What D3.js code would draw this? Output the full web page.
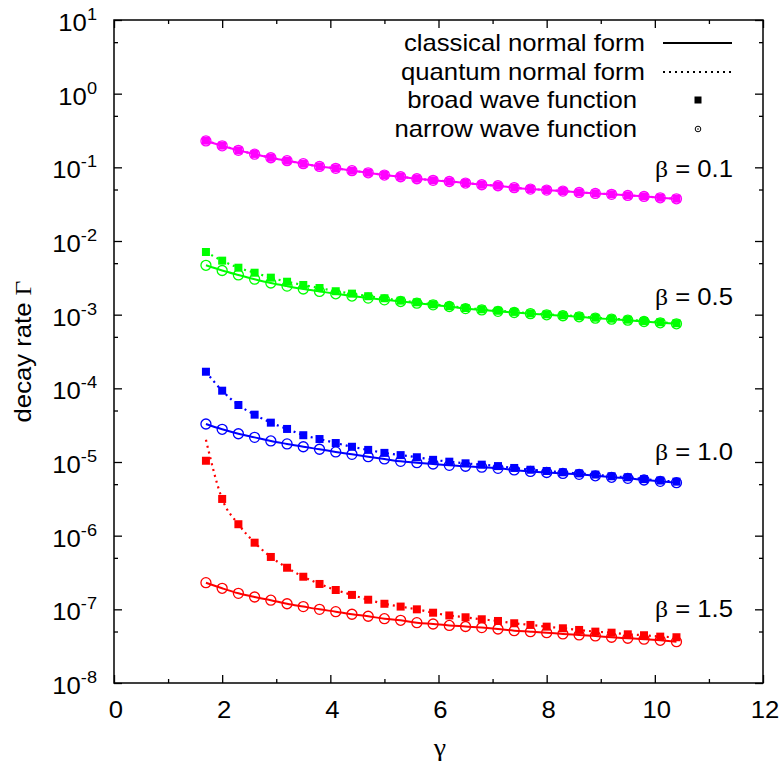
<!DOCTYPE html>
<html><head><meta charset="utf-8">
<script src="https://cdn.jsdelivr.net/npm/d3@7"></script>
<style>
html,body{margin:0;padding:0;background:#fff;}
text{font-family:"Liberation Sans",Arial,sans-serif;fill:#000;}
.greek{font-family:"Liberation Serif","DejaVu Serif",serif;}
</style></head>
<body>
<svg id="chart" width="784" height="769"></svg>
<script>
// ---------- data ----------
const gammaValues = [1.7,2.0,2.3,2.6,2.9,3.2,3.5,3.8,4.1,4.4,4.7,5.0,5.3,5.6,5.9,6.2,6.5,6.8,7.1,7.4,7.7,8.0,8.3,8.6,8.9,9.2,9.5,9.8,10.1,10.4];

const broad01  = [0.230,0.197,0.170,0.152,0.135,0.123,0.112,0.103,0.097,0.090,0.0845,0.0787,0.0746,0.0701,0.0667,0.0643,0.0613,0.0581,0.0563,0.0530,0.0508,0.0492,0.0477,0.0458,0.0444,0.0431,0.0417,0.0404,0.0387,0.0375];
const narrow01 = [0.228,0.196,0.170,0.151,0.135,0.123,0.112,0.103,0.097,0.090,0.0843,0.0786,0.0745,0.0700,0.0666,0.0642,0.0612,0.0580,0.0562,0.0529,0.0507,0.0491,0.0476,0.0457,0.0443,0.0430,0.0416,0.0403,0.0386,0.0374];

const broad05  = [0.00709,0.00541,0.00434,0.00371,0.00318,0.00280,0.00253,0.00230,0.00208,0.00193,0.00178,0.00167,0.00155,0.00147,0.00138,0.00131,0.00123,0.00118,0.00113,0.00109,0.00104,0.00101,0.000981,0.000951,0.000910,0.000882,0.000855,0.000821,0.000788,0.000764];
const narrow05 = [0.00468,0.00398,0.00346,0.00303,0.00269,0.00244,0.00223,0.00207,0.00192,0.00179,0.00168,0.00159,0.00151,0.00143,0.00136,0.00129,0.00121,0.00116,0.00111,0.00107,0.00103,0.000996,0.000966,0.000936,0.000896,0.000868,0.000841,0.000808,0.000776,0.000752];

const broad10  = [1.68e-4,9.29e-5,5.94e-5,4.39e-5,3.42e-5,2.81e-5,2.31e-5,2.05e-5,1.81e-5,1.61e-5,1.46e-5,1.33e-5,1.24e-5,1.16e-5,1.07e-5,1.01e-5,9.6e-6,9.2e-6,8.8e-6,8.3e-6,7.85e-6,7.55e-6,7.25e-6,7.0e-6,6.75e-6,6.4e-6,6.2e-6,5.85e-6,5.6e-6,5.41e-6];
const narrow10 = [3.28e-5,2.78e-5,2.42e-5,2.16e-5,1.93e-5,1.76e-5,1.61e-5,1.49e-5,1.37e-5,1.27e-5,1.18e-5,1.10e-5,1.02e-5,9.8e-6,9.4e-6,9.0e-6,8.75e-6,8.5e-6,8.2e-6,7.8e-6,7.45e-6,7.2e-6,7.0e-6,6.8e-6,6.5e-6,6.2e-6,6.0e-6,5.7e-6,5.47e-6,5.24e-6];

const broad15  = [1.04e-5,3.15e-6,1.43e-6,8.03e-7,5.14e-7,3.67e-7,2.77e-7,2.21e-7,1.83e-7,1.57e-7,1.35e-7,1.19e-7,1.09e-7,1.00e-7,9.0e-8,8.26e-8,7.80e-8,7.33e-8,6.95e-8,6.47e-8,6.14e-8,5.82e-8,5.53e-8,5.25e-8,4.98e-8,4.82e-8,4.58e-8,4.45e-8,4.26e-8,4.18e-8];
const narrow15 = [2.30e-7,1.93e-7,1.65e-7,1.47e-7,1.33e-7,1.19e-7,1.09e-7,1.00e-7,9.29e-8,8.57e-8,8.05e-8,7.46e-8,7.10e-8,6.59e-8,6.32e-8,6.04e-8,5.85e-8,5.65e-8,5.41e-8,5.13e-8,4.98e-8,4.82e-8,4.63e-8,4.49e-8,4.35e-8,4.18e-8,4.05e-8,3.93e-8,3.80e-8,3.64e-8];
// quantum normal form curve for beta=1.5 (starts above first broad point)
const qnf15    = [2.0e-5,3.15e-6,1.43e-6,8.03e-7,5.14e-7,3.67e-7,2.77e-7,2.21e-7,1.83e-7,1.57e-7,1.35e-7,1.19e-7,1.09e-7,1.00e-7,9.0e-8,8.26e-8,7.80e-8,7.33e-8,6.95e-8,6.47e-8,6.14e-8,5.82e-8,5.53e-8,5.25e-8,4.98e-8,4.82e-8,4.58e-8,4.45e-8,4.26e-8,4.18e-8];

const betaLabels = ["0.1","0.5","1.0","1.5"];
const seriesColors = ["#ff00ff","#00ff00","#0000ff","#ff0000"];
const xTicks = [0,2,4,6,8,10,12];
const xMinorTicks = [1,3,5,7,9,11];
const yExponents = [1,0,-1,-2,-3,-4,-5,-6,-7,-8];
const yMinorTicks = [5,0.5,0.05,0.005,5e-4,5e-5,5e-6,5e-7,5e-8];
const legendLabels = ["classical normal form","quantum normal form","broad wave function","narrow wave function"];

const series = [
  {beta:betaLabels[0], color:seriesColors[0], broad:broad01, narrow:narrow01, cnf:narrow01, qnf:broad01, labelY:177},
  {beta:betaLabels[1], color:seriesColors[1], broad:broad05, narrow:narrow05, cnf:narrow05, qnf:broad05, labelY:305},
  {beta:betaLabels[2], color:seriesColors[2], broad:broad10, narrow:narrow10, cnf:narrow10, qnf:broad10, labelY:460},
  {beta:betaLabels[3], color:seriesColors[3], broad:broad15, narrow:narrow15, cnf:narrow15, qnf:qnf15,   labelY:617}
];

// ---------- layout ----------
const L = 114, R = 763, T = 20, B = 683;
const FS = 24, SX = 1.07;
const svg = d3.select("#chart");
const x = d3.scaleLinear().domain([0,12]).range([L,R]);
const y = d3.scaleLog().domain([1e-8,1e1]).range([B,T]);

function label(g, px, py, anchor){
  return g.append("text")
    .attr("transform", `translate(${px},${py}) scale(${SX},1)`)
    .attr("text-anchor", anchor)
    .style("font-size", FS + "px");
}

// ---------- axes (ticks inward on all sides) ----------
const axisStyle = sel => { sel.select(".domain").remove(); sel.selectAll("line").attr("stroke","#000").attr("stroke-width",1.3); sel.selectAll("text").remove(); };
svg.append("g").attr("transform",`translate(0,${B})`).call(d3.axisBottom(x).tickValues(xTicks).tickSizeInner(-8).tickSizeOuter(0)).call(axisStyle);
svg.append("g").attr("transform",`translate(0,${B})`).call(d3.axisBottom(x).tickValues(xMinorTicks).tickSizeInner(-4).tickSizeOuter(0)).call(axisStyle);
svg.append("g").attr("transform",`translate(0,${T})`).call(d3.axisTop(x).tickValues(xTicks).tickSizeInner(-8).tickSizeOuter(0)).call(axisStyle);
svg.append("g").attr("transform",`translate(0,${T})`).call(d3.axisTop(x).tickValues(xMinorTicks).tickSizeInner(-4).tickSizeOuter(0)).call(axisStyle);
const yMajor = yExponents.map(e => Math.pow(10,e));
svg.append("g").attr("transform",`translate(${L},0)`).call(d3.axisLeft(y).tickValues(yMajor).tickSizeInner(-8).tickSizeOuter(0)).call(axisStyle);
svg.append("g").attr("transform",`translate(${L},0)`).call(d3.axisLeft(y).tickValues(yMinorTicks).tickSizeInner(-4).tickSizeOuter(0)).call(axisStyle);
svg.append("g").attr("transform",`translate(${R},0)`).call(d3.axisRight(y).tickValues(yMajor).tickSizeInner(-8).tickSizeOuter(0)).call(axisStyle);
svg.append("g").attr("transform",`translate(${R},0)`).call(d3.axisRight(y).tickValues(yMinorTicks).tickSizeInner(-4).tickSizeOuter(0)).call(axisStyle);

svg.append("rect").attr("x",L).attr("y",T).attr("width",R-L).attr("height",B-T)
  .attr("fill","none").attr("stroke","#000").attr("stroke-width",1.5);

// tick labels
xTicks.forEach(v => { label(svg, x(v)+2, B+35, "middle").text(v); });
yExponents.forEach(e => {
  const t = label(svg, 97, y(Math.pow(10,e))+11, "end");
  t.append("tspan").text("10");
  t.append("tspan").attr("dy",-11).style("font-size","17px").text(String(e));
});

// axis titles
label(svg, 440, 756, "middle").append("tspan").attr("class","greek").style("font-size","26px").text("γ");
const yl = svg.append("text").attr("transform",`translate(31,${(T+B)/2}) rotate(-90) scale(${SX},1)`)
  .attr("text-anchor","middle").style("font-size",FS+"px");
yl.append("tspan").text("decay rate ");
yl.append("tspan").attr("class","greek").text("Γ");

// ---------- data marks ----------
const line = d3.line().x((d,i)=>x(gammaValues[i])).y(d=>y(d)).curve(d3.curveMonotoneX);
const plot = svg.append("g");
series.forEach(s => {
  plot.append("path").attr("d", line(s.cnf)).attr("fill","none").attr("stroke",s.color).attr("stroke-width",2);
  plot.append("path").attr("d", line(s.qnf)).attr("fill","none").attr("stroke",s.color).attr("stroke-width",2.2)
    .attr("stroke-dasharray","2,4");
  plot.selectAll(null).data(s.broad).enter().append("rect")
    .attr("x",(d,i)=>x(gammaValues[i])-4).attr("y",d=>y(d)-4).attr("width",8).attr("height",8)
    .attr("fill",s.color);
  plot.selectAll(null).data(s.narrow).enter().append("circle")
    .attr("cx",(d,i)=>x(gammaValues[i])).attr("cy",d=>y(d)).attr("r",5)
    .attr("fill","none").attr("stroke",s.color).attr("stroke-width",1.3);
  const bl = label(svg, 655, s.labelY, "start");
  bl.append("tspan").attr("class","greek").text("β");
  bl.append("tspan").text(" = " + s.beta);
});

// ---------- legend ----------
const legRight = [645,645,637,637];
const legY = [43,72,100,129];
legendLabels.forEach((t,i) => { label(svg, legRight[i], legY[i]+8, "end").text(t); });
svg.append("line").attr("x1",663).attr("x2",732).attr("y1",legY[0]).attr("y2",legY[0]).attr("stroke","#000").attr("stroke-width",2);
svg.append("line").attr("x1",663).attr("x2",732).attr("y1",legY[1]).attr("y2",legY[1]).attr("stroke","#000").attr("stroke-width",2).attr("stroke-dasharray","2,4");
svg.append("rect").attr("x",698-3.5).attr("y",legY[2]-3.5).attr("width",7).attr("height",7).attr("fill","#000");
svg.append("circle").attr("cx",698).attr("cy",legY[3]).attr("r",2.8).attr("fill","none").attr("stroke","#000").attr("stroke-width",1);
svg.append("circle").attr("cx",698).attr("cy",legY[3]).attr("r",0.8).attr("fill","#000");
</script>
</body></html>
